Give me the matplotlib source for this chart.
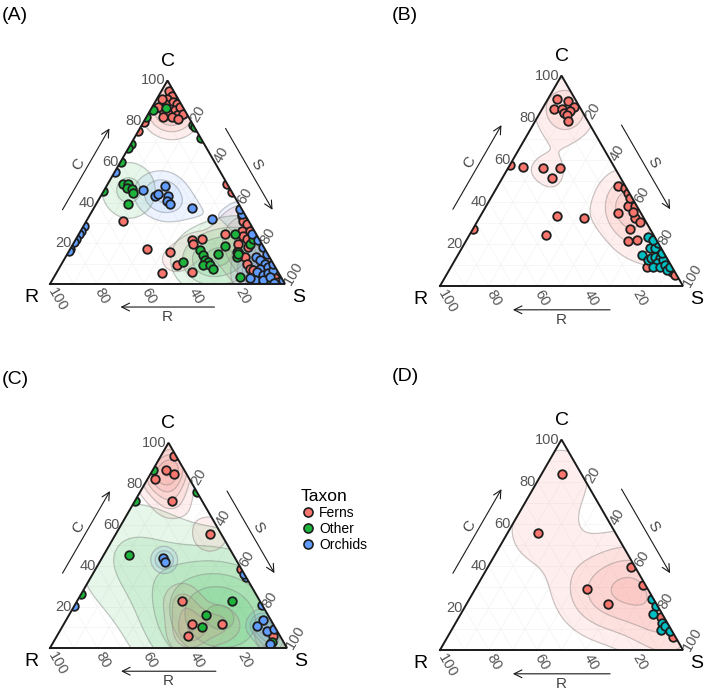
import numpy as np
import matplotlib
matplotlib.use("Agg")
import matplotlib.pyplot as plt
from matplotlib.patches import Polygon
from matplotlib.lines import Line2D

plt.rcParams['font.family'] = ['Liberation Sans', 'DejaVu Sans']

# ---------------- data (C %, S %); R = 100 - C - S ----------------
A_ferns_C = [95, 92.6, 90.9, 89.3, 88.5, 88.5, 86.1, 85.3, 86.9, 86.1, 83.7, 82.8, 83.7, 82, 82, 81.2, 91, 87,
             79.6, 75, 49, 45, 31.1, 17.3,
             21.4, 19.7, 22.2, 15.7, 9.2, 6, 5.2, 24.6, 33.5, 31.1, 29.4, 26.2, 26.2, 23.8, 22.2, 19.7, 18.1,
             15.7, 14.1, 13.3, 10, 7.6, 6.8, 4.4, 5.2, 8.4, 1.1, 2.8, 2.8, 1.1]
A_ferns_S = [3, 5.5, 4.2, 7.8, 9.7, 4.7, 8, 10.6, 11.9, 4.5, 8.5, 12.5, 14.9, 7.2, 10.8, 14, 2, 2.5,
             0, 0, 51, 55, 15.7, 32.5,
             49.6, 51.1, 53.4, 43.2, 49.3, 57.3, 44.9, 62.2, 64.8, 66.7, 69, 68.5, 72, 70.4, 72.6, 70.3, 75.3,
             71.6, 73.8, 76.3, 78.7, 81.3, 83.1, 85.7, 89.6, 86.6, 88.8, 90.1, 94.3, 96.6]
A_other_C = [85.3, 86.4, 82, 69, 66.7, 60, 45.5, 78, 77, 71.5,
             48.9, 48.9, 47.2, 46.5, 44.8, 39.2,
             16.5, 14.1, 11.7, 10.8, 9.2, 9.2, 7.6, 14.9, 18.9, 24.6, 15.7, 13.3, 19.7, 22.2, 3.6, 10.8, 14.9, 1.5]
A_other_S = [1.3, 6.2, 0, 0, 0, 0, 0, 22, 23, 28.5,
             6.7, 8.9, 9.0, 11.5, 13.0, 13.7,
             55.5, 58.2, 60.1, 62, 60.6, 63.5, 65.7, 64.2, 65, 66.4, 72.3, 72.8, 75.3, 75.4, 79.1, 51.3, 72.7, 93]
A_orch_C = [55, 28.6, 26, 24.6, 22, 20.5, 17.3, 16,
            46, 43.2, 44, 48.1, 43.2, 40.8, 39.2, 37.5,
            31.9, 34.3, 36.9, 24.6, 21.4, 18.1, 13.3, 11.7, 10, 7.6, 8.4, 6, 4.4, 5.2, 6.8, 1.9, 1.9, 3.6, 1.9,
            14.9, 10, 2.8, 0.5]
A_orch_S = [0, 0, 0, 0, 0, 0, 0, 0,
            16.7, 23.1, 24.1, 24.9, 28.7, 29.3, 31.5, 41.6,
            52.8, 64.4, 62.4, 73.5, 77.9, 81.7, 81.2, 83.5, 86.5, 85.6, 88.7, 84.9, 88.6, 90.3, 91.6, 86.3, 89.9, 91.8, 98.1,
            85.1, 90, 83.7, 95]

B_g1_C = [89, 88.1, 85.1, 84.3, 84.3, 82.2, 83.3, 81.1, 78.3,
          57.3, 56.5, 56.3, 56.3, 51.3, 33.5, 24.3, 32.2, 27.1,
          47.3, 46.5, 44.1, 39.4, 37.8, 37.8, 34.6, 32.2, 30.6, 27.1, 21.6, 21.9, 9.2, 6.8, 5.2, 42, 35]
B_g1_S = [3.8, 8.8, 12.7, 4.9, 7.9, 9.9, 11.9, 11.6, 13.7,
          0, 6, 14.1, 21.3, 20.4, 31.5, 31.5, 43.2, 0,
          49.7, 52.9, 55.4, 59.2, 58.6, 61.3, 56.1, 64.1, 67, 64.6, 66.7, 70.1, 80.4, 91.9, 94.1, 57, 62]
B_g2_C = [14.8, 18, 23.5, 12.4, 13.2, 14, 13.2, 10.8, 12.4, 9.2, 9.2, 10, 7.6, 9.2, 17.9, 20.3, 21.9, 15.6]
B_g2_S = [75.6, 77.4, 74, 79.5, 80.4, 81.4, 83.9, 83.8, 85.7, 83.2, 85.9, 87.6, 89.5, 90, 79.5, 79.7, 76.9, 83.5]

C_ferns_C = [93.7, 86.5, 84.9, 82.3, 71.7, 55.4, 23.1, 11.5, 11.5, 6, 38.4, 6]
C_ferns_S = [5.5, 5.6, 10, 3.1, 15.5, 39.8, 44, 54, 66.7, 55.4, 61.6, 91]
C_other_C = [86.5, 71.4, 75.9, 45.4, 16.1, 10.1, 23.1, 26.2, 2.8]
C_other_S = [0, 0, 24.1, 10.8, 57.8, 59, 65.4, 0, 92.1]
C_orch_C = [43.7, 42.1, 20.5, 34.8, 21, 13.7, 10.7, 8.3, 9.1, 1.8, 36]
C_orch_S = [26, 27.5, 0, 65.2, 78.8, 83.2, 81.9, 87.3, 90, 91.9, 64]

D_g1_C = [83.4, 55.8, 29.2, 22, 39.6, 30.8, 15.9, 6.1]
D_g1_S = [8.4, 12.3, 45.8, 58.3, 58.7, 68.3, 83.2, 93]
D_g2_C = [24.2, 20.7, 17.2, 12.8, 9.6, 11.2, 8.8]
D_g2_S = [75, 78.6, 79.2, 84.8, 86, 87, 90.3]

taxa = ["Ferns", "Other", "Orchids"]
tick_vals = [20, 40, 60, 80, 100]
panel_labels = ["(A)", "(B)", "(C)", "(D)"]

# ---------------- styling ----------------
COL_F = "#F8766D"
COL_O = "#1DB43C"
COL_B = "#619CFF"
COL_CY = "#00BFC4"
H = np.sqrt(3) / 2
FW, FH = 708, 691

fig = plt.figure(figsize=(FW / 100, FH / 100), dpi=100)


def to_xy(C, S):
    C = np.asarray(C, float) / 100.0
    S = np.asarray(S, float) / 100.0
    return S + C / 2, C * H


def make_ax(x0, ybot, W):
    hpx = W * H
    ax = fig.add_axes([x0 / FW, (FH - ybot) / FH, W / FW, hpx / FH])
    ax.set_xlim(0, 1)
    ax.set_ylim(0, H)
    ax.axis("off")
    return ax


def nice_step(x):
    e = 10 ** np.floor(np.log10(x))
    f = x / e
    for m in (1, 2, 2.5, 5, 10):
        if f <= m:
            return m * e
    return 10 * e


GX, GY = np.meshgrid(np.linspace(0, 1, 321), np.linspace(0, H, 279))


def kde(ax, C, S, color, clip, bw, nb=7, alpha=0.11):
    c = np.asarray(C, float) / 100
    s = np.asarray(S, float) / 100
    r = 1 - c - s
    ok = (c > 0.004) & (s > 0.004) & (r > 0.004)
    x, y = to_xy(c[ok] * 100, s[ok] * 100)
    D = np.zeros_like(GX)
    for a, b in zip(x, y):
        D += np.exp(-((GX - a) ** 2 + (GY - b) ** 2) / (2 * bw ** 2))
    D /= (len(x) * 2 * np.pi * bw * bw)
    mx = D.max()
    step = nice_step(mx / nb)
    levels = np.arange(step, mx, step)
    for lv in levels:
        cs = ax.contourf(GX, GY, D, levels=[lv, mx * 1.01], colors=[color], alpha=alpha, zorder=2)
        cs.set_clip_path(clip)
    cl = ax.contour(GX, GY, D, levels=levels, colors="#8c8c8c", linewidths=0.9, alpha=0.45, zorder=3)
    cl.set_clip_path(clip)


def frame(ax):
    tri = Polygon([[0, 0], [1, 0], [0.5, H]], closed=True, facecolor="none", edgecolor="none",
                  transform=ax.transData)
    ax.add_patch(tri)
    for v in np.arange(0.1, 1.0, 0.1):
        kw = dict(color="#f3f3f3", lw=0.5, zorder=1)
        ax.plot([v / 2, 1 - v / 2], [v * H, v * H], **kw)
        ax.plot([v, v + (1 - v) / 2], [0, (1 - v) * H], **kw)
        ax.plot([v, v / 2], [0, v * H], **kw)
    ax.plot([0, 1, 0.5, 0], [0, 0, H, 0], color="#1a1a1a", lw=1.4, zorder=6, solid_joinstyle="miter",
            clip_on=False)
    tcol = "#555555"
    for t in tick_vals:
        f = t / 100
        ax.text(f * 0.5 - 0.008, f * H, str(t), ha="right", va="center", fontsize=10.5, color=tcol)
        ax.text(0.5 + f / 2 + 0.012, (1 - f) * H, str(t), ha="left", va="center", fontsize=10.5,
                color=tcol, rotation=60, rotation_mode="anchor")
        ax.text(1 - f + 0.004, -0.02, str(t), ha="left", va="center", fontsize=10.5, color=tcol,
                rotation=-60, rotation_mode="anchor")
    ax.text(0.5, H + 0.045, "C", ha="center", va="bottom", fontsize=14)
    ax.text(-0.05, -0.02, "R", ha="right", va="top", fontsize=14)
    ax.text(1.03, -0.02, "S", ha="left", va="top", fontsize=14)
    d = 0.112
    t0, t1 = 0.3, 0.7
    ux, uy = 0.5, H
    nx, ny = -H, 0.5
    ap = dict(arrowstyle="->", color="#1a1a1a", lw=0.8, mutation_scale=14, shrinkA=0, shrinkB=0)
    ax.annotate("", xy=(t1 * ux + d * nx, t1 * uy + d * ny), xytext=(t0 * ux + d * nx, t0 * uy + d * ny),
                arrowprops=ap, annotation_clip=False)
    dl = 0.15
    ax.text(0.5 * ux + dl * nx, 0.5 * uy + dl * ny, "C", rotation=60, ha="center", va="center",
            fontsize=11, color="#444444")
    sx0, sy0 = 0.5, H
    vx, vy = 0.5, -H
    mx_, my_ = H, 0.5
    ax.annotate("", xy=(sx0 + t1 * vx + d * mx_, sy0 + t1 * vy + d * my_),
                xytext=(sx0 + t0 * vx + d * mx_, sy0 + t0 * vy + d * my_), arrowprops=ap, annotation_clip=False)
    ax.text(sx0 + 0.5 * vx + dl * mx_, sy0 + 0.5 * vy + dl * my_, "S", rotation=-60, ha="center", va="center",
            fontsize=11, color="#444444")
    ax.annotate("", xy=(0.3, -0.098), xytext=(0.7, -0.098), arrowprops=ap, annotation_clip=False)
    ax.text(0.5, -0.14, "R", ha="center", va="center", fontsize=11, color="#444444")
    return tri


def points(ax, C, S, color, clip):
    x, y = to_xy(C, S)
    sc = ax.scatter(x, y, s=38, c=color, edgecolors="#1e1e1e", linewidths=1.3, zorder=5)
    sc.set_clip_path(clip)


# Panel A
axA = make_ax(50, 284, 235)
clip = frame(axA)
kde(axA, A_ferns_C, A_ferns_S, COL_F, clip, 0.07)
kde(axA, A_other_C, A_other_S, COL_O, clip, 0.085)
kde(axA, A_orch_C, A_orch_S, COL_B, clip, 0.065)
points(axA, A_ferns_C, A_ferns_S, COL_F, clip)
points(axA, A_other_C, A_other_S, COL_O, clip)
points(axA, A_orch_C, A_orch_S, COL_B, clip)

# Panel B
axB = make_ax(440, 286, 243)
clip = frame(axB)
kde(axB, B_g1_C, B_g1_S, COL_F, clip, 0.08, nb=6)
points(axB, B_g1_C, B_g1_S, COL_F, clip)
points(axB, B_g2_C, B_g2_S, COL_CY, clip)

# Panel C
axC = make_ax(50, 648, 237)
clip = frame(axC)
kde(axC, C_other_C, C_other_S, COL_O, clip, 0.18)
kde(axC, C_ferns_C, C_ferns_S, COL_F, clip, 0.06)
kde(axC, C_orch_C, C_orch_S, COL_B, clip, 0.035)
points(axC, C_ferns_C, C_ferns_S, COL_F, clip)
points(axC, C_other_C, C_other_S, COL_O, clip)
points(axC, C_orch_C, C_orch_S, COL_B, clip)

# Panel D
axD = make_ax(440, 650, 243)
clip = frame(axD)
kde(axD, D_g1_C, D_g1_S, COL_F, clip, 0.12)
points(axD, D_g1_C, D_g1_S, COL_F, clip)
points(axD, D_g2_C, D_g2_S, COL_CY, clip)

for lab, (px, py) in zip(panel_labels, [(2, 16), (392, 16), (2, 380), (392, 377)]):
    fig.text(px / FW, 1 - py / FH, lab, fontsize=14, ha="left", va="center")

handles = [Line2D([], [], marker="o", ls="none", markerfacecolor=c, markeredgecolor="#1e1e1e",
                  markeredgewidth=1.2, markersize=6.5)
           for c in [COL_F, COL_O, COL_B]]
leg = fig.legend(handles, taxa, title="Taxon", loc="upper left", bbox_to_anchor=(294 / FW, 1 - 482 / FH),
                 frameon=False, fontsize=10, title_fontsize=12.5, handletextpad=0.3, labelspacing=0.15,
                 borderpad=0, handlelength=1.0, alignment="left")

fig.savefig("out.png", dpi=100)
